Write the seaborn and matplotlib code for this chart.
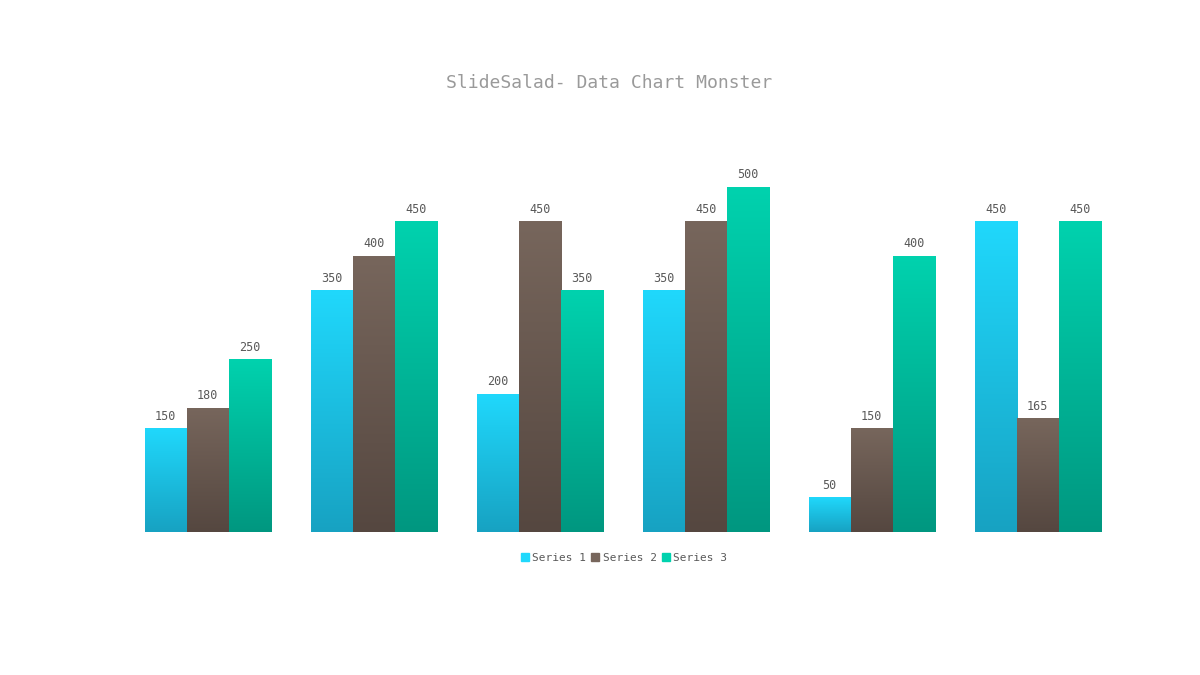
import numpy as np
import pandas as pd
import seaborn as sns
import matplotlib.pyplot as plt
from matplotlib.colors import LinearSegmentedColormap
from matplotlib.patches import Patch

categories = ["Cat 1", "Cat 2", "Cat 3", "Cat 4", "Cat 5", "Cat 6"]
series_names = ["Series 1", "Series 2", "Series 3"]
series1 = [150, 350, 200, 350, 50, 450]
series2 = [180, 400, 450, 450, 150, 165]
series3 = [250, 450, 350, 500, 400, 450]

# top / bottom gradient colours per series
grad = {
    "Series 1": ("#20d8fc", "#17a2c2"),
    "Series 2": ("#77665c", "#554740"),
    "Series 3": ("#00d2ae", "#009780"),
}

df = pd.DataFrame({
    "cat": categories * 3,
    "series": sum([[s] * 6 for s in series_names], []),
    "value": series1 + series2 + series3,
})

sns.set_style("white")
plt.rcParams['font.family'] = ['DejaVu Sans Mono']

fig = plt.figure(figsize=(12, 6.75), dpi=100)
ax = fig.add_axes([0.104, 0.212, 0.83, 0.511])
sns.barplot(data=df, x="cat", y="value", hue="series", width=0.76,
            ax=ax, legend=False, saturation=1)
ax.set_ylim(0, 500)
ax.set_xlim(-0.5, 5.5)

grad_img = np.linspace(1, 0, 256).reshape(-1, 1)
for container, name in zip(ax.containers, series_names):
    top, bot = grad[name]
    cmap = LinearSegmentedColormap.from_list(name, [bot, top])
    for bar in container:
        x0, w, h = bar.get_x(), bar.get_width(), bar.get_height()
        bar.set_alpha(0)
        im = ax.imshow(grad_img, cmap=cmap, aspect="auto",
                       extent=[x0, x0 + w, 0, h], zorder=2)
        im.set_clip_path(bar)
        ax.text(x0 + w / 2, h + 8, f"{int(h)}", ha="center", va="bottom",
                fontsize=8.5, color="#595959", zorder=3)
ax.set_xlim(-0.5, 5.5)
ax.set_ylim(0, 500)

for s in ax.spines.values():
    s.set_visible(False)
ax.set_xticks([])
ax.set_yticks([])
ax.set_xlabel("")
ax.set_ylabel("")

fig.text(0.508, 0.877, "SlideSalad- Data Chart Monster", ha="center",
         va="center", fontsize=13, color="#9a9a9a")

handles = [Patch(color=grad[s][0]) for s in series_names]
fig.legend(handles, series_names, loc="center", bbox_to_anchor=(0.52, 0.173),
           ncol=3, frameon=False, fontsize=8, handlelength=0.7,
           handleheight=0.7, handletextpad=0.3, columnspacing=0.5,
           labelcolor="#595959")

fig.savefig("out.png", dpi=100)
